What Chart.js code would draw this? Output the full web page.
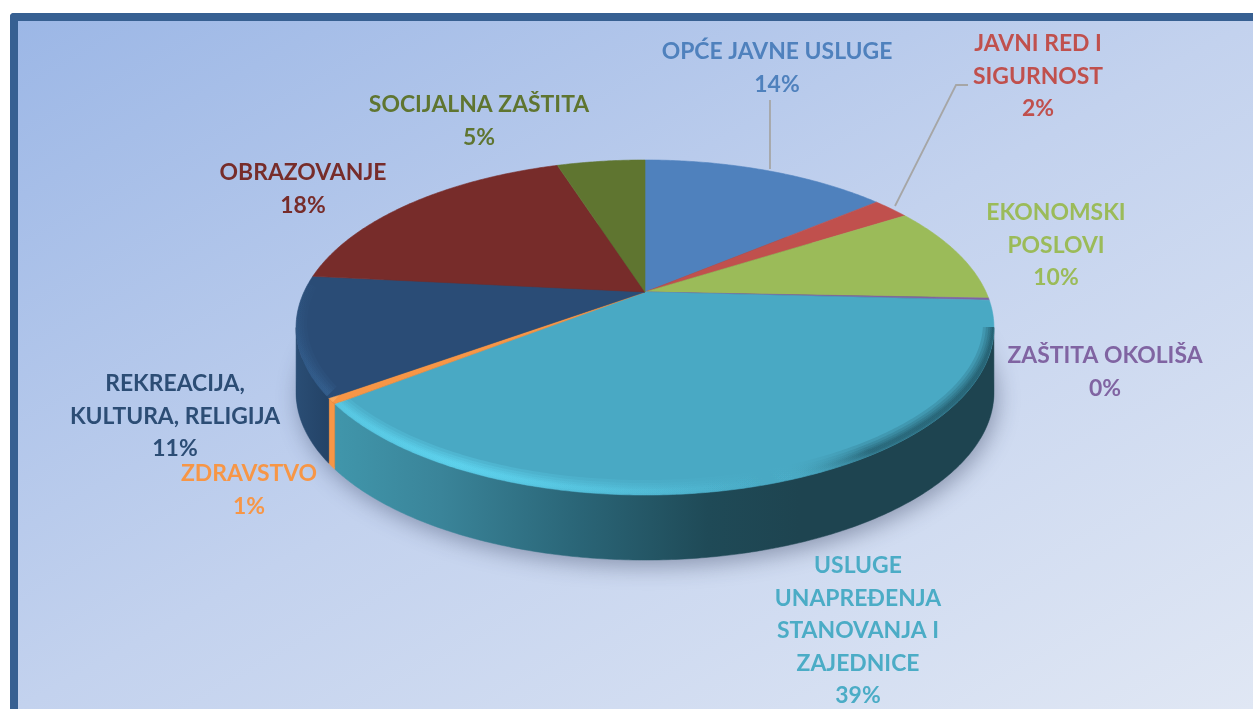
<!DOCTYPE html>
<html><head><meta charset="utf-8">
<script src="https://cdn.jsdelivr.net/npm/chart.js@4/dist/chart.umd.min.js"></script>
<style>
html,body{margin:0;padding:0;background:#fff;overflow:hidden;width:1253px;height:709px}
#frame{position:absolute;left:10px;top:13px;width:1243px;height:696px;box-sizing:border-box;border:8px solid #376092;border-right:none;border-bottom:none;border-top-left-radius:4px;background:linear-gradient(to bottom right,#9cb7e6 0%,#c3d2ee 50%,#e0e7f4 100%)}
canvas{position:absolute;left:0;top:0}
</style></head><body>
<div id="frame"></div>
<canvas id="c" width="1253" height="709"></canvas>
<script>
const categories=['OPĆE JAVNE USLUGE','JAVNI RED I SIGURNOST','EKONOMSKI POSLOVI','ZAŠTITA OKOLIŠA','USLUGE UNAPREĐENJA STANOVANJA I ZAJEDNICE','ZDRAVSTVO','REKREACIJA, KULTURA, RELIGIJA','OBRAZOVANJE','SOCIJALNA ZAŠTITA'];
const values=[14,2.1,9.5,0.2,38.75,0.55,11.49,18.4,5];
const labelLines=[['OPĆE JAVNE USLUGE'],['JAVNI RED I','SIGURNOST'],['EKONOMSKI','POSLOVI'],['ZAŠTITA OKOLIŠA'],['USLUGE','UNAPREĐENJA','STANOVANJA I','ZAJEDNICE'],['ZDRAVSTVO'],['REKREACIJA,','KULTURA, RELIGIJA'],['OBRAZOVANJE'],['SOCIJALNA ZAŠTITA']];
const faceColors=['#4f81bd','#c0504d','#9bbb59','#8064a2','#49a9c4','#f79646','#2a4c76','#772c2a','#5f7530'];
const textColors=['#4f81bd','#c0504d','#9bbb59','#8064a2','#4bacc6','#f79646','#2c4d75','#772c2a','#5f7530'];
const wallColors=['#1e4450','#1e4450','#1e4450','#1e4450','#1e4450','#f79646','#24456a','#24456a','#24456a'];
const bevelColors=['#6f9fd8','#dd7a76','#bcd97a','#a088c4','#62dcf7','#ffb46c','#3a6a9c','#9a4a48','#80983f'];
const labelAnchors=[[777,52],[1038,44],[1056,213],[1105,356],[858,566],[249,474],[175,384],[303,173],[479,105]];
const lineGap=32.4, FONT='bold 22.9px Lato';
const KX=341/292, KY=160/292, PERSP=0.212, DEPTH=65;

function pt(e,th){const w=1-PERSP*Math.sin(th),R=e.outerRadius;
  return [e.x+R*KX*Math.cos(th)/w, e.y+R*KY*Math.sin(th)/w];}
function rim(ctx,e,a,b,dy,move){const n=Math.max(2,Math.ceil(Math.abs(b-a)/0.01));
  for(let i=0;i<=n;i++){const p=pt(e,a+(b-a)*i/n);
    if(i===0&&move)ctx.moveTo(p[0],p[1]+dy);else ctx.lineTo(p[0],p[1]+dy);}}

const pie3d={id:'pie3d',
 beforeDatasetsDraw(chart){
  const ctx=chart.ctx,arcs=chart.getDatasetMeta(0).data.map(el=>el.getProps(['x','y','startAngle','endAngle','outerRadius'],true));
  const full=arcs[0];
  const S1=Math.asin(PERSP),S2=Math.PI-S1;
  ctx.save();
  // cast shadow under the disc
  ctx.save();
  ctx.shadowColor='rgba(40,50,80,0.40)';ctx.shadowBlur=22;ctx.shadowOffsetY=8;ctx.shadowOffsetX=3;
  ctx.fillStyle='#1e4450';ctx.beginPath();rim(ctx,full,0,Math.PI*2,DEPTH-2,true);ctx.closePath();ctx.fill();
  ctx.restore();
  // outward-facing walls only
  arcs.forEach((e,i)=>{
    const a=Math.max(e.startAngle,S1),b=Math.min(e.endAngle,S2);
    if(b<=a)return;
    ctx.beginPath();rim(ctx,e,a,b,0,true);rim(ctx,e,b,a,DEPTH,false);ctx.closePath();
    let fill=wallColors[i];
    if(i===4){const g=ctx.createLinearGradient(340,0,800,0);
      g.addColorStop(0,'#4095aa');g.addColorStop(0.22,'#3a8499');g.addColorStop(0.5,'#2b6779');g.addColorStop(0.8,'#1f4a57');g.addColorStop(1,'#1e4450');fill=g;}
    if(i===6){const g=ctx.createLinearGradient(297,0,340,0);g.addColorStop(0,'#2a4d74');g.addColorStop(1,'#213f62');fill=g;}
    ctx.fillStyle=fill;ctx.fill();ctx.strokeStyle=fill;ctx.lineWidth=0.5;ctx.stroke();});
  // top faces
  arcs.forEach((e,i)=>{ctx.beginPath();ctx.moveTo(e.x,e.y);rim(ctx,e,e.startAngle,e.endAngle,0,false);ctx.closePath();
    ctx.fillStyle=faceColors[i];ctx.fill();ctx.strokeStyle=faceColors[i];ctx.lineWidth=0.6;ctx.stroke();});
  // bevel just inside the front rim
  const hex2=(h,a)=>{const n=parseInt(h.slice(1),16);return `rgba(${n>>16},${(n>>8)&255},${n&255},${a})`;};
  arcs.forEach((e,i)=>{
    const a=Math.max(e.startAngle,S1-0.25),b=Math.min(e.endAngle,S2+0.25);
    if(b<=a)return;
    ctx.save();
    ctx.beginPath();ctx.moveTo(e.x,e.y);rim(ctx,e,e.startAngle,e.endAngle,0,false);ctx.closePath();
    ctx.clip();
    const g=ctx.createConicGradient(0,e.x,e.y+35),c=bevelColors[i];
    g.addColorStop(0,'rgba(10,40,50,0.14)');g.addColorStop(0.08,'rgba(10,40,50,0.12)');g.addColorStop(0.14,hex2(c,0));
    g.addColorStop(0.22,hex2(c,0.06));g.addColorStop(0.32,hex2(c,0.14));g.addColorStop(0.40,hex2(c,0.26));g.addColorStop(0.47,hex2(c,0.14));g.addColorStop(0.53,hex2(c,0));g.addColorStop(1,hex2(c,0));
    ctx.strokeStyle=g;ctx.lineCap='butt';
    [22,16,11,7,4].forEach(w=>{ctx.lineWidth=w;ctx.beginPath();rim(ctx,e,a,b,-4,true);ctx.stroke();});
    ctx.restore();});
  ctx.restore();
  return false;
 },
 afterDraw(chart){
  const ctx=chart.ctx;ctx.save();
  // leader lines
  ctx.strokeStyle='#a6a6a6';ctx.lineWidth=1.8;
  ctx.beginPath();ctx.moveTo(770,169);ctx.lineTo(770,100);ctx.stroke();
  ctx.beginPath();ctx.moveTo(895,206);ctx.lineTo(956,85);ctx.lineTo(968,85);ctx.stroke();
  // labels
  ctx.font=FONT;ctx.textAlign='center';ctx.textBaseline='middle';
  labelLines.forEach((lines,i)=>{ctx.fillStyle=textColors[i];
    const all=lines.concat([Math.round(values[i])+'%']);
    all.forEach((t,j)=>ctx.fillText(t,labelAnchors[i][0],labelAnchors[i][1]+j*lineGap));});
  ctx.restore();
 }};

document.fonts.load(FONT).finally(()=>{
new Chart(document.getElementById('c'),{type:'pie',
 data:{labels:categories,datasets:[{data:values,backgroundColor:faceColors,borderWidth:0}]},
 options:{responsive:false,animation:false,events:[],layout:{padding:{left:37,bottom:125}},
  plugins:{legend:{display:false},tooltip:{enabled:false}}},
 plugins:[pie3d]});
});
</script>
</body></html>
